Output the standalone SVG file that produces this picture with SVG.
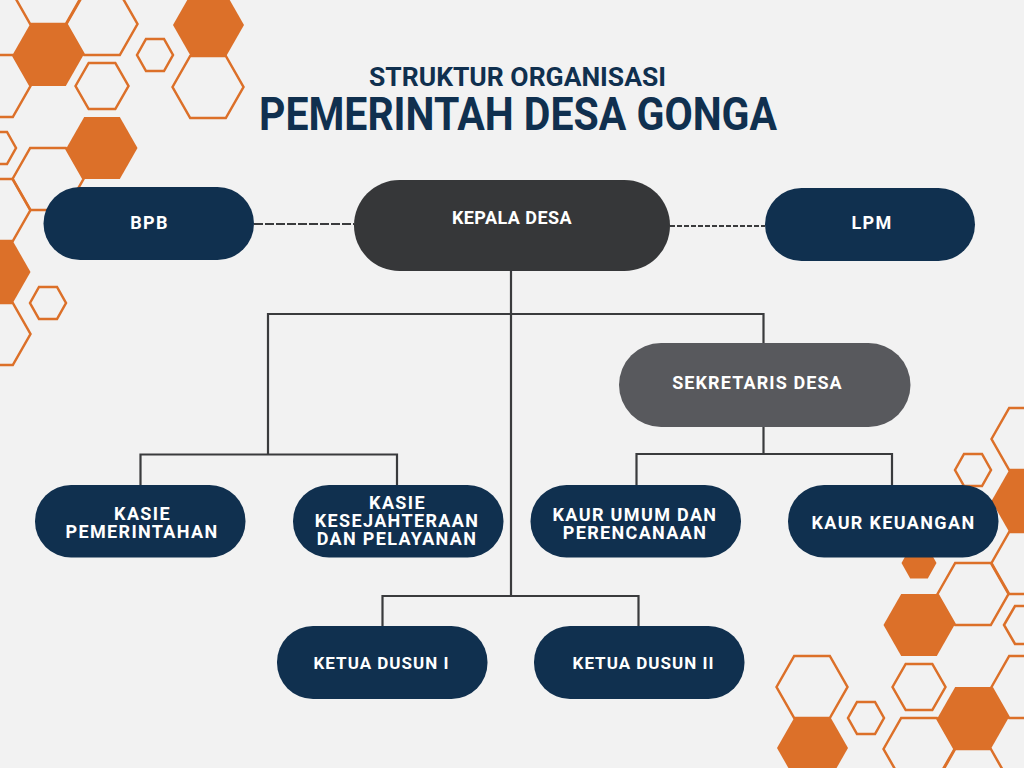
<svg xmlns="http://www.w3.org/2000/svg" width="1024" height="768" viewBox="0 0 1024 768">
<style>
.o{fill:none;stroke:#dc7029;stroke-width:2.5}
.f{fill:#dc7029}
.navy{fill:#10304f}
.t{font-family:Roboto,"Liberation Sans",sans-serif;font-weight:700;fill:#fff;text-anchor:middle;font-size:18px;letter-spacing:1.35px}
.d{font-size:17px;letter-spacing:1px}
.h{font-family:Roboto,"Liberation Sans",sans-serif;fill:#10304f;text-anchor:middle;font-weight:700}
.l{fill:none;stroke:#3a3b3d;stroke-width:2.2}
</style>
<defs>
<polygon id="L" points="-35.5,0 -17.8,-31 17.8,-31 35.5,0 17.8,31 -17.8,31"/>
<polygon id="M" points="-26.5,0 -13.3,-23 13.3,-23 26.5,0 13.3,23 -13.3,23"/>
<polygon id="S" points="-18,0 -9,-16 9,-16 18,0 9,16 -9,16"/>
<polygon id="S2" points="-17.5,0 -8.8,-15.5 8.8,-15.5 17.5,0 8.8,15.5 -8.8,15.5"/>
<polygon id="S3" points="-22,0 -11,-19 11,-19 22,0 11,19 -11,19"/>
</defs>
<rect width="1024" height="768" fill="#f2f2f2"/>
<g id="decor-left">
<use href="#L" class="o" x="48" y="-7"/><use href="#L" class="o" x="102" y="24"/><use href="#L" class="o" x="208" y="87"/><use href="#L" class="o" x="-5" y="86"/><use href="#L" class="o" x="48" y="179"/><use href="#L" class="o" x="-5" y="210"/><use href="#L" class="o" x="-5" y="334"/>
<use href="#M" class="o" x="102" y="86"/><use href="#S" class="o" x="155" y="55"/><use href="#S" class="o" x="48" y="303"/><use href="#S" class="o" x="-2" y="148"/>
<use href="#L" class="f" x="48" y="55"/><use href="#L" class="f" x="102" y="148"/><use href="#L" class="f" x="208.500" y="25"/><use href="#L" class="f" x="-5" y="272"/>
</g>
<g id="decor-right">
<use href="#L" class="o" x="1027" y="439"/><use href="#L" class="o" x="1027" y="563"/><use href="#L" class="o" x="973" y="594"/><use href="#L" class="o" x="1027" y="687"/><use href="#L" class="o" x="812" y="687"/><use href="#L" class="o" x="919" y="749"/><use href="#L" class="o" x="973" y="780"/>
<use href="#M" class="o" x="919" y="687"/><use href="#S" class="o" x="973" y="470"/><use href="#S" class="o" x="866" y="718"/><use href="#S3" class="o" x="1026" y="625"/>
<use href="#L" class="f" x="1027" y="501"/><use href="#S2" class="f" x="919" y="563"/><use href="#L" class="f" x="919" y="625"/><use href="#L" class="f" x="973" y="718"/><use href="#L" class="f" x="812.500" y="748"/>
</g>
<g id="title">
<text class="h" x="517.500" y="85.500" font-size="26" textLength="297" lengthAdjust="spacingAndGlyphs">STRUKTUR ORGANISASI</text>
<text class="h" x="518" y="130" font-size="47" textLength="518" lengthAdjust="spacingAndGlyphs">PEMERINTAH DESA GONGA</text>
</g>
<g id="connectors">
<path class="l" d="M254 224H354" stroke-dasharray="9 2"/>
<path class="l" d="M670 226H765" stroke-dasharray="5 2"/>
<path class="l" d="M511 271V596"/>
<path class="l" d="M268 454V314H763.500V343"/>
<path class="l" d="M140.500 485V454.500H397V485"/>
<path class="l" d="M763.500 427V454"/>
<path class="l" d="M636.500 485V454H892V485"/>
<path class="l" d="M382.500 626V596H638.500V626"/>
</g>
<g id="n-bpb"><rect class="navy" x="43.500" y="187" width="210.500" height="73" rx="36.500"/><text class="t" x="149.500" y="228.500">BPB</text></g>
<g id="n-kepala"><rect fill="#363739" x="354" y="180" width="316" height="91" rx="45.500"/><text class="t" x="512" y="224" style="letter-spacing:.45px">KEPALA DESA</text></g>
<g id="n-lpm"><rect class="navy" x="765" y="188" width="210" height="73" rx="36.500"/><text class="t" x="872" y="229">LPM</text></g>
<g id="n-sekretaris"><rect fill="#58595d" x="619" y="343" width="291.500" height="84" rx="42"/><text class="t" x="757.500" y="389" style="letter-spacing:1.1px">SEKRETARIS DESA</text></g>
<g id="n-kasie-pem"><rect class="navy" x="35" y="485" width="210.500" height="72.500" rx="36"/><text class="t"><tspan x="142.500" y="520">KASIE</tspan><tspan x="142" y="538">PEMERINTAHAN</tspan></text></g>
<g id="n-kasie-kes"><rect class="navy" x="293" y="485" width="210.500" height="72.500" rx="36"/><text class="t"><tspan x="397.500" y="509">KASIE</tspan><tspan x="397" y="527">KESEJAHTERAAN</tspan><tspan x="397" y="545">DAN PELAYANAN</tspan></text></g>
<g id="n-kaur-umum"><rect class="navy" x="530.500" y="485" width="210.500" height="72.500" rx="36"/><text class="t"><tspan x="635" y="520.500">KAUR UMUM DAN</tspan><tspan x="635" y="539">PERENCANAAN</tspan></text></g>
<g id="n-kaur-keu"><rect class="navy" x="788" y="485" width="210.500" height="72.500" rx="36"/><text class="t" x="893.500" y="529">KAUR KEUANGAN</text></g>
<g id="n-dusun1"><rect class="navy" x="277" y="626" width="210.500" height="73" rx="36"/><text class="t d" x="381.500" y="669">KETUA DUSUN I</text></g>
<g id="n-dusun2"><rect class="navy" x="534" y="626" width="210.500" height="73" rx="36"/><text class="t d" x="643.500" y="669">KETUA DUSUN II</text></g>
</svg>
